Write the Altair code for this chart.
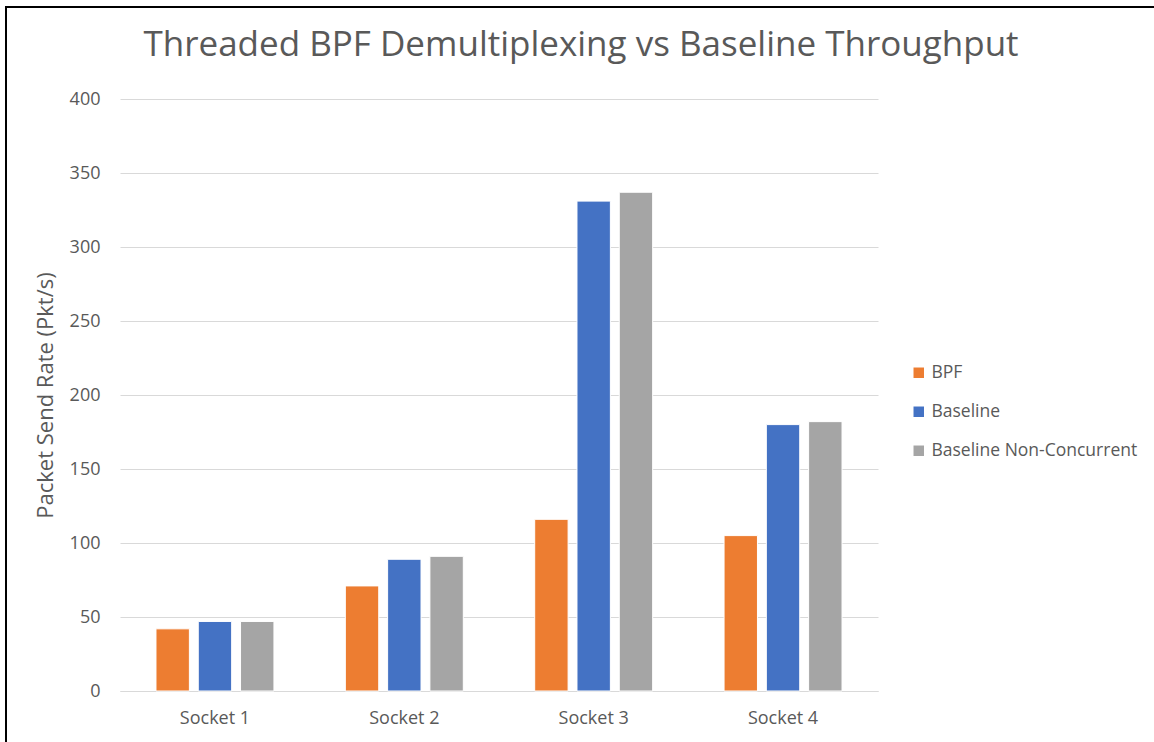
import altair as alt
import pandas as pd

sockets = ["Socket 1", "Socket 2", "Socket 3", "Socket 4"]
series = ["BPF", "Baseline", "Baseline Non-Concurrent"]
bpf = [42, 71, 116, 105]
baseline = [47, 89, 331, 180]
non_concurrent = [47, 91, 337, 182]
colors = ["#ED7D31", "#4472C4", "#A5A5A5"]
y_ticks = [0, 50, 100, 150, 200, 250, 300, 350, 400]

rows = []
for name, vals in zip(series, [bpf, baseline, non_concurrent]):
    for s, v in zip(sockets, vals):
        rows.append({"Socket": s, "Series": name, "Value": v})
df = pd.DataFrame(rows)

FONT = "Open Sans"
GREY = "#595959"

bars = alt.Chart(df).mark_bar(stroke="white", strokeWidth=1).encode(
    x=alt.X("Socket:N", sort=sockets, title=None,
            scale=alt.Scale(paddingInner=0.377, paddingOuter=0.19),
            axis=alt.Axis(labelAngle=0, labelFontSize=18, labelColor=GREY,
                          labelFont=FONT, ticks=False, domainColor="#D9D9D9",
                          domainWidth=1, labelPadding=18, grid=False)),
    xOffset=alt.XOffset("Series:N", sort=series,
                        scale=alt.Scale(paddingInner=0.21, paddingOuter=0)),
    y=alt.Y("Value:Q", title="Packet Send Rate (Pkt/s)",
            scale=alt.Scale(domain=[0, 400], nice=False),
            axis=alt.Axis(values=y_ticks, labelFontSize=18, labelColor=GREY,
                          labelFont=FONT, ticks=False, domain=False,
                          gridColor="#D9D9D9", gridWidth=1, labelPadding=20,
                          titleFontSize=22, titleColor=GREY, titleFont=FONT,
                          titleFontWeight="normal", titlePadding=12)),
    color=alt.Color("Series:N", sort=series,
                    scale=alt.Scale(domain=series, range=colors),
                    legend=alt.Legend(title=None, orient="none", legendX=790,
                                      legendY=265, symbolType="square",
                                      symbolSize=110, symbolStrokeWidth=0,
                                      labelFontSize=17.5, labelColor=GREY,
                                      labelFont=FONT, rowPadding=20,
                                      labelLimit=400, symbolOpacity=1)),
)

frame = pd.DataFrame({"k": [0]})
top_line = alt.Chart(frame).mark_rule(color="black", strokeWidth=2).encode(
    x=alt.value(-115), x2=alt.value(1040), y=alt.value(-92))
left_line = alt.Chart(frame).mark_rule(color="black", strokeWidth=2).encode(
    x=alt.value(-114), y=alt.value(-93), y2=alt.value(650))

chart = alt.layer(bars, top_line, left_line).properties(
    width=758, height=592,
    background="white",
    padding={"left": 120, "top": 99, "right": 276, "bottom": 51},
    autosize=alt.AutoSizeParams(type="none"),
    title=alt.TitleParams("Threaded BPF Demultiplexing vs Baseline Throughput",
                          font=FONT, fontSize=35, fontWeight="normal",
                          color=GREY, anchor="middle", dx=82, offset=0,
                          baseline="alphabetic", dy=86),
).configure_view(stroke="transparent", strokeWidth=0)

chart.save("out.html", embed_options={"renderer": "svg", "actions": False})
